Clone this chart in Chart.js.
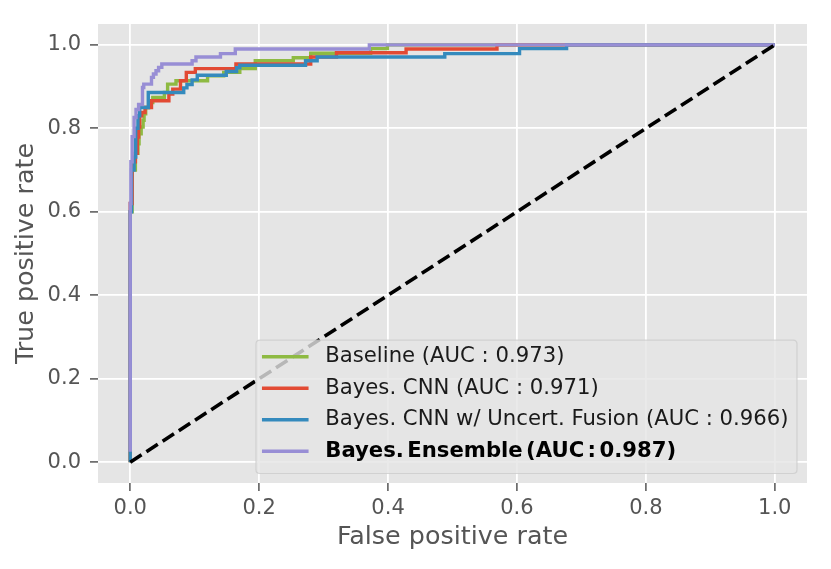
<!DOCTYPE html>
<html><head><meta charset="utf-8">
<script src="https://cdn.jsdelivr.net/npm/chart.js@4.4.1/dist/chart.umd.min.js"></script>
<style>html,body{margin:0;padding:0;background:#fff;overflow:hidden}#wrap{width:831px;height:569px;position:relative}</style>
</head><body><div id="wrap"><canvas id="c" width="831" height="569"></canvas></div>
<script>
// ---- data ----
const seriesLabels = [
  'Baseline (AUC : 0.973)',
  'Bayes. CNN (AUC : 0.971)',
  'Bayes. CNN w/ Uncert. Fusion (AUC : 0.966)',
  'Bayes. Ensemble (AUC : 0.987)'
];
const baselineFpr = [0, 0.003, 0.008, 0.012, 0.0137, 0.017, 0.020, 0.0215, 0.024, 0.029, 0.035, 0.053, 0.058, 0.071, 0.120, 0.145, 0.170, 0.194, 0.253, 0.280, 0.373, 0.399, 1.0];
const baselineTpr = [0, 0.60, 0.70, 0.74, 0.763, 0.787, 0.803, 0.819, 0.835, 0.850, 0.862, 0.874, 0.886, 0.906, 0.914, 0.926, 0.934, 0.943, 0.962, 0.969, 0.980, 0.991, 1.0];
const bayesCnnFpr = [0, 0.003, 0.008, 0.011, 0.013, 0.0147, 0.0178, 0.023, 0.033, 0.060, 0.066, 0.078, 0.087, 0.101, 0.164, 0.280, 0.320, 0.428, 0.569, 1.0];
const bayesCnnTpr = [0, 0.62, 0.72, 0.74, 0.779, 0.803, 0.830, 0.838, 0.850, 0.866, 0.882, 0.894, 0.914, 0.934, 0.943, 0.954, 0.971, 0.981, 0.990, 1.0];
const fusionFpr = [0, 0.002, 0.006, 0.0085, 0.012, 0.0147, 0.028, 0.083, 0.088, 0.096, 0.104, 0.149, 0.165, 0.170, 0.272, 0.290, 0.488, 0.604, 0.677, 1.0];
const fusionTpr = [0, 0.60, 0.70, 0.731, 0.80, 0.83, 0.85, 0.886, 0.897, 0.905, 0.916, 0.927, 0.936, 0.945, 0.951, 0.962, 0.971, 0.979, 0.991, 1.0];
const ensembleFpr = [0, 0.001, 0.003, 0.006, 0.009, 0.013, 0.019, 0.021, 0.033, 0.036, 0.040, 0.044, 0.049, 0.096, 0.102, 0.140, 0.163, 0.371, 1.0];
const ensembleTpr = [0.025, 0.62, 0.72, 0.78, 0.826, 0.845, 0.857, 0.898, 0.906, 0.922, 0.930, 0.938, 0.946, 0.954, 0.962, 0.971, 0.979, 0.990, 1.0];
const chanceFpr = [0, 1];
const chanceTpr = [0, 1];
const xTicks = [0.0, 0.2, 0.4, 0.6, 0.8, 1.0];
const yTicks = [0.0, 0.2, 0.4, 0.6, 0.8, 1.0];
const xTitle = 'False positive rate';
const yTitle = 'True positive rate';

// ---- styles ----
const colors = ['#8EBA42', '#E24A33', '#348ABD', '#988ED5'];
const boldIndex = 3;
const FONT = '"DejaVu Sans", "Liberation Sans", sans-serif';
const pts = (xs, ys) => xs.map((x, i) => ({x: x, y: ys[i]}));

const curves = [
  [baselineFpr, baselineTpr],
  [bayesCnnFpr, bayesCnnTpr],
  [fusionFpr, fusionTpr],
  [ensembleFpr, ensembleTpr]
];
const datasets = curves.map((c, i) => ({
  label: seriesLabels[i],
  data: pts(c[0], c[1]),
  borderColor: colors[i],
  backgroundColor: colors[i],
  borderWidth: 3.4,
  pointRadius: 0,
  showLine: true,
  stepped: 'after',
  fill: false,
  order: 4 - i,
  borderCapStyle: 'butt',
  borderJoinStyle: 'miter'
}));
datasets.push({
  label: 'chance',
  data: pts(chanceFpr, chanceTpr),
  borderColor: '#000000',
  borderWidth: 3.6,
  borderDash: [13.5, 5.8],
  pointRadius: 0,
  showLine: true,
  fill: false,
  order: 0
});

const bgPlugin = {
  id: 'bg',
  beforeDraw(chart) {
    const {ctx, chartArea: a} = chart;
    ctx.save();
    ctx.fillStyle = '#E5E5E5';
    ctx.fillRect(a.left, a.top, a.right - a.left, a.bottom - a.top);
    ctx.restore();
  }
};

const legendPlugin = {
  id: 'innerLegend',
  afterDatasetsDraw(chart) {
    const {ctx, chartArea: a} = chart;
    const fs = 21.2;
    const normal = fs + 'px ' + FONT;
    const bold = 'bold ' + fs + 'px ' + FONT;
    ctx.save();
    let maxW = 0;
    seriesLabels.forEach((t, i) => {
      ctx.font = i === boldIndex ? bold : normal;
      if (i === boldIndex && 'wordSpacing' in ctx) ctx.wordSpacing = '-4px';
      maxW = Math.max(maxW, ctx.measureText(t).width);
      if ('wordSpacing' in ctx) ctx.wordSpacing = '0px';
    });
    const padL = 6, handleLen = 46.6, gap = 16.7, padR = 8.5;
    const w = padL + handleLen + gap + maxW + padR;
    const h = 133.3;
    const right = a.right - 10, bottom = a.bottom - 9.5;
    const left = right - w, top = bottom - h;
    const r = 4;
    ctx.beginPath();
    ctx.moveTo(left + r, top);
    ctx.lineTo(right - r, top);
    ctx.quadraticCurveTo(right, top, right, top + r);
    ctx.lineTo(right, bottom - r);
    ctx.quadraticCurveTo(right, bottom, right - r, bottom);
    ctx.lineTo(left + r, bottom);
    ctx.quadraticCurveTo(left, bottom, left, bottom - r);
    ctx.lineTo(left, top + r);
    ctx.quadraticCurveTo(left, top, left + r, top);
    ctx.closePath();
    ctx.fillStyle = 'rgba(229,229,229,0.8)';
    ctx.fill();
    ctx.strokeStyle = 'rgba(204,204,204,0.8)';
    ctx.lineWidth = 1.2;
    ctx.stroke();
    seriesLabels.forEach((t, i) => {
      const cy = top + 16.6 + i * 31.5;
      ctx.beginPath();
      ctx.strokeStyle = colors[i];
      ctx.lineWidth = 3.4;
      ctx.moveTo(left + padL, cy);
      ctx.lineTo(left + padL + handleLen, cy);
      ctx.stroke();
      ctx.font = i === boldIndex ? bold : normal;
      if (i === boldIndex && 'wordSpacing' in ctx) ctx.wordSpacing = '-4px';
      ctx.fillStyle = i === boldIndex ? '#000000' : '#1a1a1a';
      ctx.textBaseline = 'middle';
      ctx.textAlign = 'left';
      ctx.fillText(t, left + padL + handleLen + gap, cy);
      if ('wordSpacing' in ctx) ctx.wordSpacing = '0px';
    });
    ctx.restore();
  }
};

const tickFont = {family: FONT, size: 21};
const titleFont = {family: FONT, size: 25.4};

new Chart(document.getElementById('c'), {
  type: 'scatter',
  data: {datasets: datasets},
  options: {
    responsive: false,
    animation: false,
    layout: {padding: {top: 24, right: 24, left: 0, bottom: 0}},
    plugins: {legend: {display: false}, tooltip: {enabled: false}},
    scales: {
      x: {
        type: 'linear', min: -0.05, max: 1.05,
        afterFit: s => { s.height = 86; },
        afterBuildTicks: s => { s.ticks = xTicks.map(v => ({value: v})); },
        ticks: {callback: v => Number(v).toFixed(1), color: '#555555', font: tickFont, padding: 5, maxRotation: 0},
        grid: {color: '#ffffff', lineWidth: 1.8, tickColor: '#555555', tickLength: 8, tickWidth: 1.5},
        border: {display: false},
        title: {display: true, text: xTitle, color: '#555555', font: titleFont, padding: {top: 0, bottom: 15.9}}
      },
      y: {
        type: 'linear', min: -0.05, max: 1.05,
        afterFit: s => { s.width = 98; },
        afterBuildTicks: s => { s.ticks = yTicks.map(v => ({value: v})); },
        ticks: {callback: v => Number(v).toFixed(1), color: '#555555', font: tickFont, padding: 9},
        grid: {color: '#ffffff', lineWidth: 1.8, tickColor: '#555555', tickLength: 8, tickWidth: 1.5},
        border: {display: false},
        title: {display: true, text: yTitle, color: '#555555', font: titleFont, padding: {top: 11.5, bottom: 0}}
      }
    }
  },
  plugins: [bgPlugin, legendPlugin]
});
</script>
</body></html>
